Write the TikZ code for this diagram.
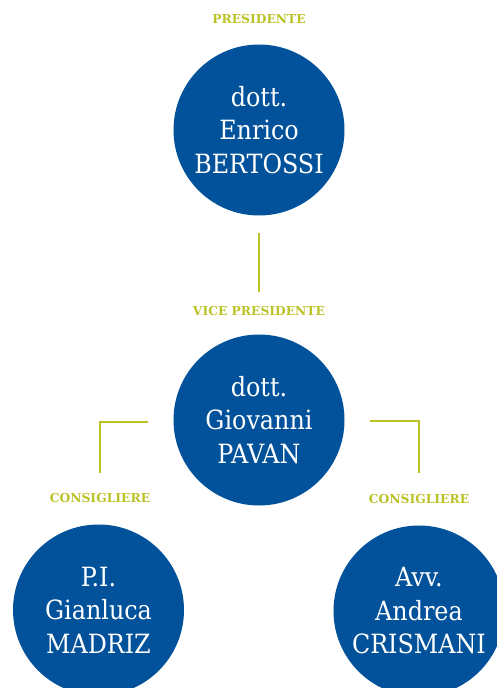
\documentclass[tikz,border=0pt]{standalone}
\usepackage{fontspec}
\setmainfont{DejaVu Serif}
\newfontfamily\namefont{DejaVu Serif Condensed}
\definecolor{orgblue}{RGB}{2,82,155}
\definecolor{orggreen}{RGB}{186,194,38}
\begin{document}
\begin{tikzpicture}[x=1pt,y=-1pt,
  person/.style={circle,fill=orgblue,minimum size=171pt,inner sep=0pt,text=white,align=center,
    font=\namefont\fontsize{26.5}{33.5}\selectfont},
  role/.style={text=orggreen,font=\bfseries\fontsize{12.3}{14}\selectfont,inner sep=2pt},
  conn/.style={draw=orggreen,line width=1.8pt}]
\clip (0,0) rectangle (497,688);
\useasboundingbox (0,0) rectangle (497,688);
\node[role] (lpres) at (259,19) {PRESIDENTE};
\node[person] (pres) at (259,130) {dott.\\Enrico\\BERTOSSI};
\node[role] (lvice) at (259,311) {VICE PRESIDENTE};
\node[person] (vice) at (259,420) {dott.\\Giovanni\\PAVAN};
\node[role] (lc1) at (100,498) {CONSIGLIERE};
\node[role] (lc2) at (419,499) {CONSIGLIERE};
\node[person] (c1) at (98.5,610) {P.I.\\Gianluca\\MADRIZ};
\node[person] (c2) at (419,611) {Avv.\\Andrea\\CRISMANI};
\draw[conn,shorten <=17pt,shorten >=12pt] (pres.south) -- (lvice.north);
\draw[conn,shorten <=25pt,shorten >=18pt] ([yshift=-2pt]vice.west) -| (lc1.north);
\draw[conn,shorten <=25pt,shorten >=19pt] ([yshift=-1pt]vice.east) -| (lc2.north);
\end{tikzpicture}
\end{document}
